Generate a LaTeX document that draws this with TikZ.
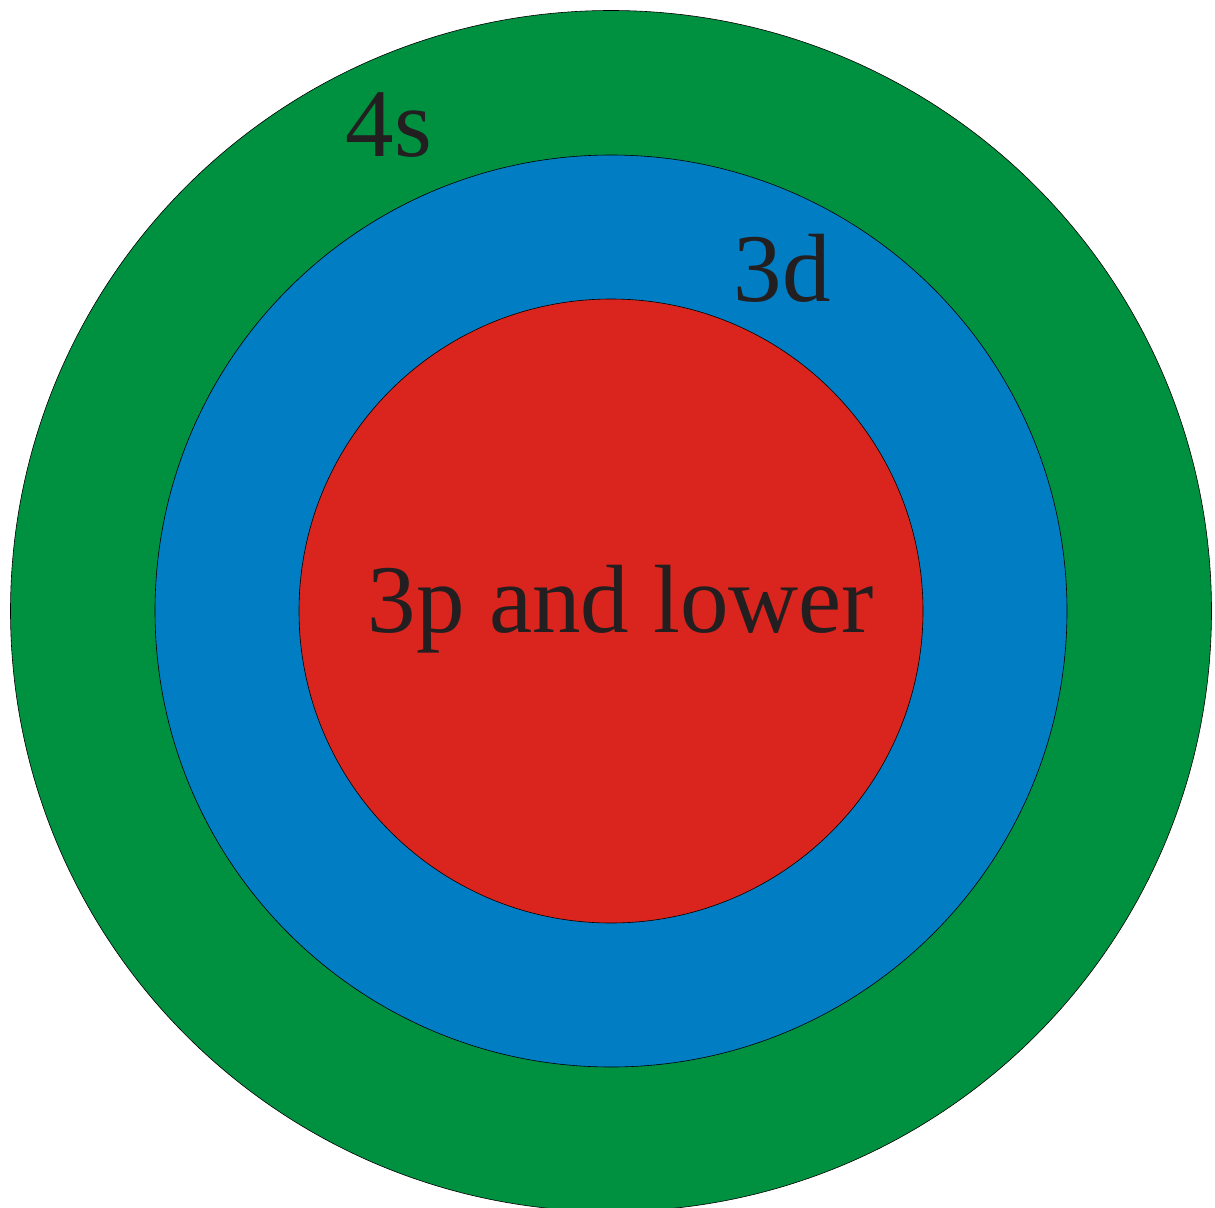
\documentclass[tikz,border=0pt]{standalone}
\usepackage{fontspec}
\setmainfont{Liberation Serif}
\definecolor{gshell}{HTML}{009140}
\definecolor{bshell}{HTML}{007DC3}
\definecolor{rshell}{HTML}{D9251D}
\definecolor{txt}{HTML}{231F20}
\begin{document}
\begin{tikzpicture}[x=1pt,y=-1pt,
  shell/.style={draw=black,line width=0.6pt},
  lbl/.style={inner sep=0pt,anchor=base,text=txt,font=\fontsize{97}{100}\selectfont}]
\useasboundingbox (0,0) rectangle (1215,1207);
\coordinate (c) at (611,611);
\fill[shell,fill=gshell] (c) circle (600.5);
\fill[shell,fill=bshell] (c) circle (456);
\fill[shell,fill=rshell] (c) circle (312);
\node[lbl] (s4) at (389,156) {4s};
\node[lbl] (d3) at (782,301) {3d};
\node[lbl] (p3) at (621,632) {3p and lower};
\end{tikzpicture}
\end{document}
